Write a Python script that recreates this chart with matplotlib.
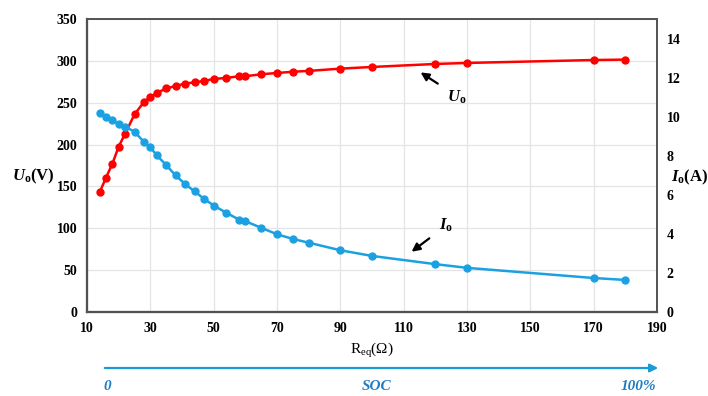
import matplotlib.pyplot as plt
from matplotlib.patches import FancyArrowPatch

# data
r_eq = [14, 16, 18, 20, 22, 25, 28, 30, 32, 35, 38, 41, 44, 47, 50, 54, 58, 60,
        65, 70, 75, 80, 90, 100, 120, 130, 170, 180]
u_o = [143, 160.5, 177, 197.5, 212.7, 236, 251, 256.5, 261.6, 267, 270, 272.8,
       274.4, 276, 278.4, 279.6, 281.6, 281.6, 284, 285.5, 287, 288, 290.7,
       292.7, 296.3, 297.5, 301, 301.5]
i_o = [10.19, 10.0, 9.81, 9.62, 9.49, 9.23, 8.70, 8.43, 8.03, 7.52, 6.99, 6.55,
       6.17, 5.79, 5.45, 5.08, 4.73, 4.65, 4.31, 3.98, 3.74, 3.55, 3.16, 2.87,
       2.45, 2.26, 1.74, 1.64]
x_ticks = list(range(10, 191, 20))
u_ticks = list(range(0, 351, 50))
i_ticks = list(range(0, 15, 2))

red = '#ff0000'
blue = '#1ba1e2'
serif = 'Liberation Serif'

plt.rcParams['font.family'] = serif
plt.rcParams['mathtext.fontset'] = 'custom'
plt.rcParams['mathtext.rm'] = serif
plt.rcParams['mathtext.it'] = serif + ':italic'
plt.rcParams['mathtext.bf'] = serif + ':bold'
plt.rcParams['mathtext.bfit'] = serif + ':bold:italic'

fig = plt.figure(figsize=(7.08, 3.96), dpi=100)
ax = fig.add_axes([87/708, 84/396, 570/708, 293/396])
ax2 = ax.twinx()

ax.set_xlim(10, 190)
ax.set_ylim(0, 350)
ax2.set_ylim(0, 15)
ax.set_xticks(x_ticks)
ax.set_yticks(u_ticks)
ax2.set_yticks(i_ticks)
ax.grid(True, color='#e4e4e4', linewidth=0.9)
ax.set_axisbelow(True)

for a in (ax, ax2):
    a.tick_params(length=0, labelsize=10, pad=7)
    for lab in a.get_xticklabels() + a.get_yticklabels():
        lab.set_fontweight('bold')
    for s in a.spines.values():
        s.set_color('#555555')
        s.set_linewidth(1.3)
ax.spines['bottom'].set_color('#222222')
ax.spines['bottom'].set_linewidth(1.6)
ax.spines['left'].set_color('#333333')
ax.spines['left'].set_linewidth(1.6)

ax.plot(r_eq, u_o, color=red, marker='o', markersize=5, linewidth=1.8, zorder=3)
ax2.plot(r_eq, i_o, color=blue, marker='o', markersize=5, linewidth=1.8, zorder=3)

# annotations
ax.annotate('', xy=(114.6, 288), xytext=(121.5, 271),
            arrowprops=dict(arrowstyle='-|>', color='black', lw=1.6, mutation_scale=12))
ax.text(126.7, 257, r'$\boldsymbol{U}_{\mathbf{o}}$', ha='center', va='center', fontsize=12)
ax.annotate('', xy=(111.8, 70), xytext=(118.8, 90),
            arrowprops=dict(arrowstyle='-|>', color='black', lw=1.6, mutation_scale=12))
ax.text(123.3, 104, r'$\boldsymbol{I}_{\mathbf{o}}$', ha='center', va='center', fontsize=12)

fig.text(33/708, 1 - 176/396, r'$\boldsymbol{U}_{\mathbf{o}}\mathbf{(V)}$',
         ha='center', va='center', fontsize=12)
fig.text(690/708, 1 - 177/396, r'$\boldsymbol{I}_{\mathbf{o}}\mathbf{(A)}$',
         ha='center', va='center', fontsize=12)
fig.text(372/708, 1 - 351/396, r'$\mathrm{R_{eq}(\Omega)}$',
         ha='center', va='center', fontsize=11)

# SOC arrow below the chart
fig.patches.append(FancyArrowPatch(
    (102/708, 1 - 368/396), (661/708, 1 - 368/396), transform=fig.transFigure,
    arrowstyle='-|>', mutation_scale=12, color='#1b9ad8', lw=1.6))
soc_col = '#1f7cc4'
fig.text(107/708, 1 - 386/396, '0', ha='center', va='center', fontsize=11,
         style='italic', weight='bold', color=soc_col)
fig.text(377/708, 1 - 386/396, 'SOC', ha='center', va='center', fontsize=11,
         style='italic', weight='bold', color=soc_col)
fig.text(656/708, 1 - 386/396, '100%', ha='right', va='center', fontsize=11,
         style='italic', weight='bold', color=soc_col)

fig.savefig('out.png', dpi=100)
